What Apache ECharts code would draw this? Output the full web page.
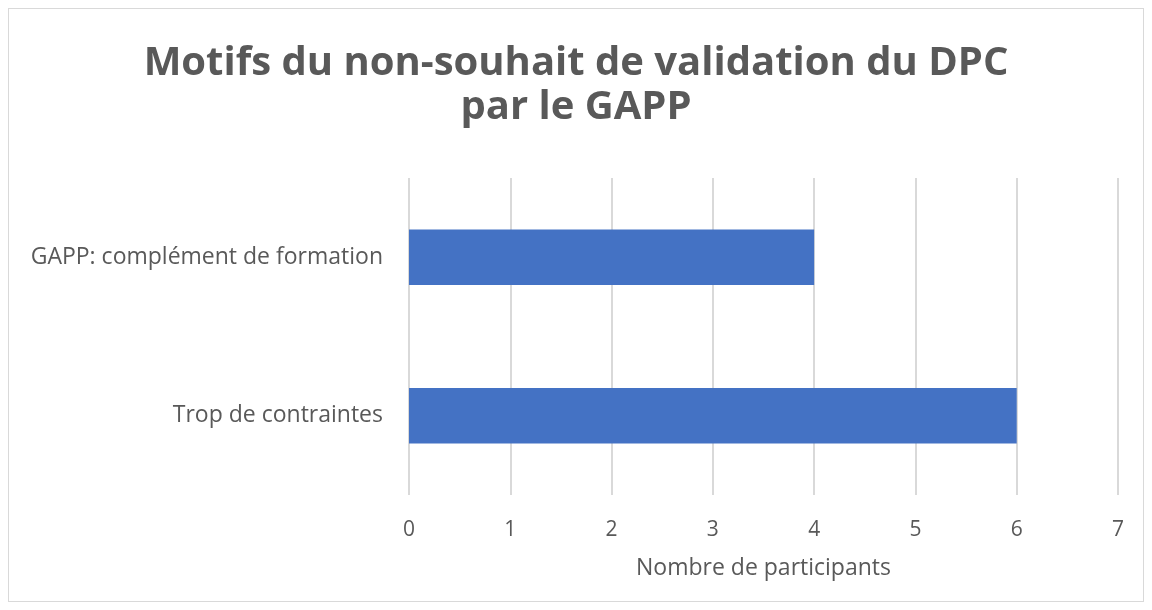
<!DOCTYPE html>
<html><head><meta charset="utf-8">
<script src="https://cdn.jsdelivr.net/npm/echarts@6/dist/echarts.min.js"></script>
<style>
html,body{margin:0;padding:0;background:#fff;}
#frame{position:absolute;left:8px;top:8px;width:1134px;height:592px;border:1px solid #d9d9d9;}
#c{position:absolute;left:0;top:0;width:1152px;height:610px;}
</style></head>
<body>
<div id="frame"></div>
<div id="c"></div>
<script>
const categories = ["Trop de contraintes", "GAPP: complément de formation"];
const values = [6, 4];
const titleLines = ["Motifs du non-souhait de validation du DPC", "par le GAPP"];
const axisTitle = "Nombre de participants";

const chart = echarts.init(document.getElementById('c'));
chart.setOption({
  animation: false,
  title: {
    text: titleLines.join('\n'),
    left: 'center', top: 37,
    textStyle: {fontFamily: 'Open Sans', fontWeight: 'bold', fontSize: 40, color: '#595959', lineHeight: 44}
  },
  grid: {left: 409, right: 34, top: 178, bottom: 115, containLabel: false},
  xAxis: {
    type: 'value', min: 0, max: 7, interval: 1,
    name: axisTitle, nameLocation: 'middle', nameGap: 62,
    nameTextStyle: {fontFamily: 'Open Sans', fontSize: 23, color: '#595959'},
    axisLine: {show: false}, axisTick: {show: false},
    axisLabel: {fontFamily: 'Open Sans', fontSize: 21, color: '#595959', margin: 25},
    splitLine: {lineStyle: {color: '#d9d9d9', width: 2}}
  },
  yAxis: {
    type: 'category', data: categories,
    axisLine: {show: false}, axisTick: {show: false},
    axisLabel: {fontFamily: 'Open Sans', fontSize: 23, color: '#595959', margin: 26}
  },
  series: [{
    type: 'bar', data: values, barCategoryGap: '65%',
    itemStyle: {color: '#4472c4'}
  }]
});
</script>
</body></html>
